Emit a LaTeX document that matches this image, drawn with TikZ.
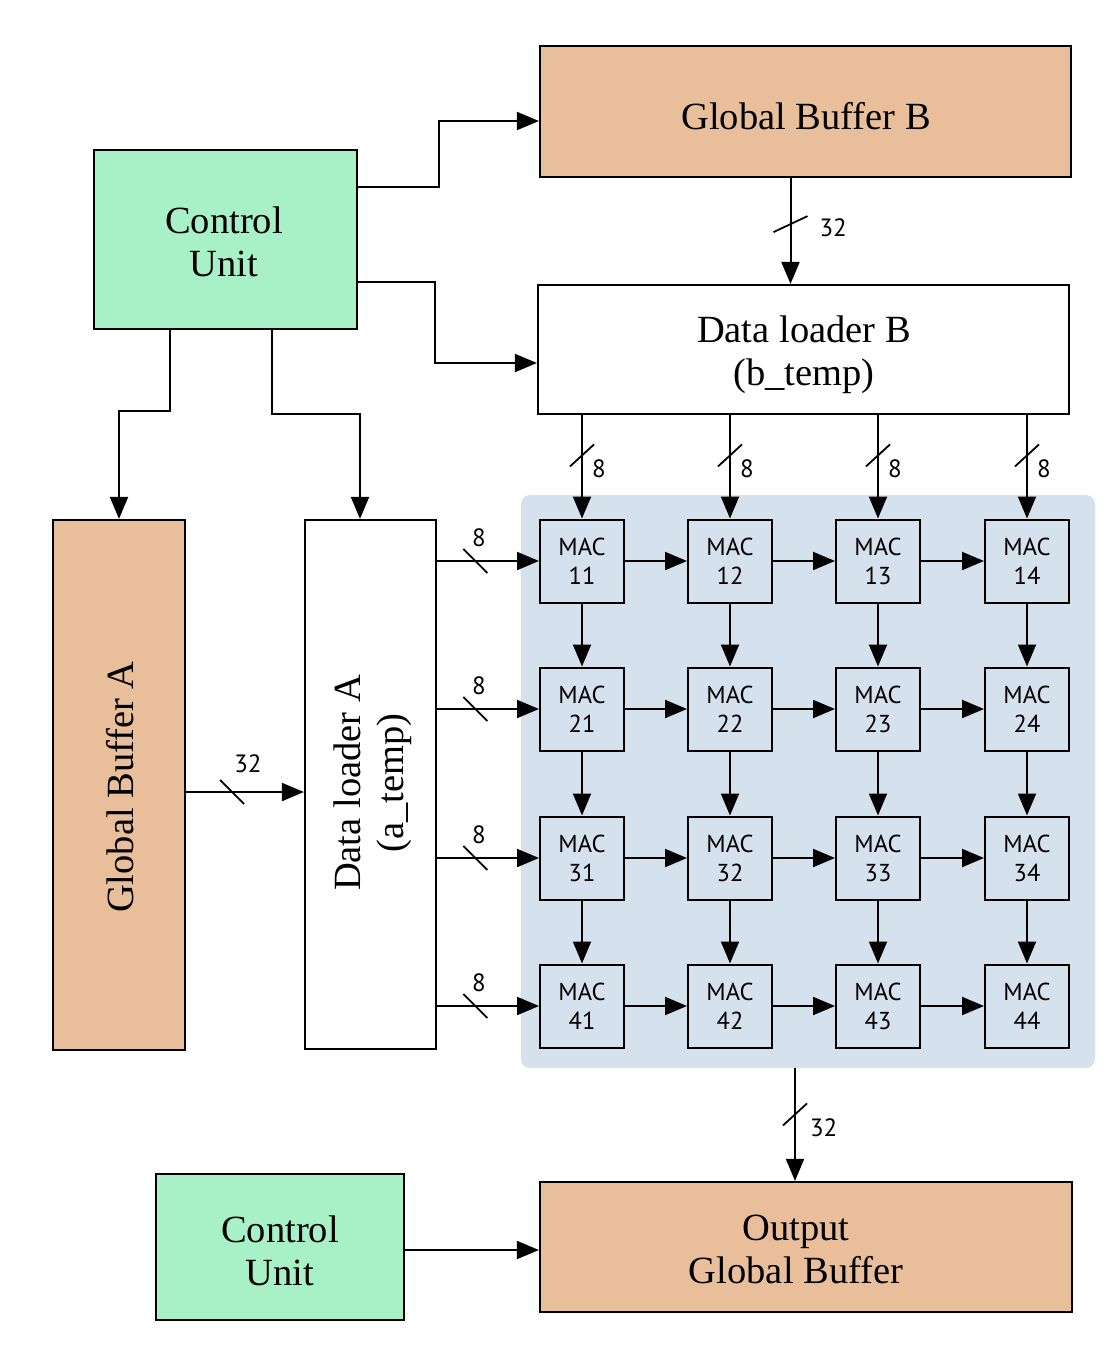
\documentclass[tikz,border=0pt]{standalone}
\usepackage{fontspec}
\setmainfont{Liberation Serif}
\newfontfamily\macfont{PT Sans}
\usetikzlibrary{arrows.meta,calc}
\definecolor{orangeF}{HTML}{E8BF9A}
\definecolor{greenF}{HTML}{A8F0C6}
\definecolor{blueF}{HTML}{D6E1EE}
\begin{document}
\begin{tikzpicture}[x=1pt,y=-1pt,
  box/.style={draw=black, line width=2.2pt, inner sep=0pt},
  bigtext/.style={inner sep=0pt, align=center, font=\fontsize{38.5}{43}\selectfont},
  mac/.style={draw=black, line width=2pt, fill=blueF, minimum width=84, minimum height=83, inner sep=0pt, align=center, font=\macfont\fontsize{24.5}{29}\selectfont},
  arr/.style={line width=2pt, -{Triangle[length=22pt,width=18pt]}},
  bus/.style={font=\macfont\fontsize{25}{26}\selectfont, inner sep=0pt},
  slv/.pic={\draw[line width=1.8pt,-] (-12,11) -- (12,-11);},
  slh/.pic={\draw[line width=1.8pt,-] (-12,-12) -- (12,12);},
  slf/.pic={\draw[line width=1.8pt,-] (-17,8) -- (17,-8);},
]
\path[use as bounding box, fill=white] (0,0) rectangle (1118,1353);

% boxes
\node[box, fill=orangeF, minimum width=531, minimum height=131] (gbb) at (805.5,111.5) {};
\node[bigtext] (gbbT) at (806,116) {Global Buffer B};
\node[box, fill=greenF, minimum width=263, minimum height=179] (cu) at (225.5,239.5) {};
\node[bigtext] (cuT) at (224,242) {Control\\Unit};
\node[box, fill=white, minimum width=531, minimum height=129] (dlb) at (803.5,349.5) {};
\node[bigtext] (dlbT) at (804,355) {Data loader B\\(b\_temp)};
\node[box, fill=orangeF, minimum width=132, minimum height=530] (gba) at (119,785) {};
\node[bigtext, rotate=90] (gbaT) at (120,787) {Global Buffer A};
\node[box, fill=white, minimum width=131, minimum height=529] (dla) at (370.5,784.5) {};
\node[bigtext, rotate=90] (dlaT) at (373,783) {Data loader A\\(a\_temp)};
\node[fill=blueF, rounded corners=9pt, minimum width=574, minimum height=573, inner sep=0pt] (bg) at (808,781.5) {};
\node[box, fill=orangeF, minimum width=532, minimum height=130] (ogb) at (806,1247) {};
\node[bigtext] (ogbT) at (796,1249) {Output\\Global Buffer};
\node[box, fill=greenF, minimum width=248, minimum height=146] (cu2) at (280,1247) {};
\node[bigtext] (cu2T) at (280,1251) {Control\\Unit};

% MAC array
\foreach \r/\y in {1/561,2/709,3/858,4/1006}{
  \foreach \c/\x in {1/582,2/730,3/878,4/1027}{
    \node[mac] (m\r\c) at (\x,\y) {MAC\\\r\c};
  }
}

% control connections
\draw[arr] ([yshift=52.5]cu.east) -- ++(81,0) |- ([yshift=-9.5]gbb.west);
\draw[arr] ([yshift=-42.5]cu.east) -- ++(77,0) |- ([yshift=-13.5]dlb.west);
\draw[arr] ([xshift=-55.5]cu.south) -- ++(0,81) -| (gba.north);
\draw[arr] ([xshift=46.5]cu.south) -- ++(0,84) -| ([xshift=-10.5]dla.north);
\draw[arr] ([yshift=-3]cu2.east) -- ([yshift=-3]ogb.west);

% buses
\draw[arr] ([xshift=-15]gbb.south) -- pic[pos=.435]{slf} node[bus, pos=.47, anchor=west, xshift=28]{32} ([xshift=-15]gbb.south |- dlb.north);
\draw[arr] ([yshift=-7]gba.east) -- pic[pos=.39]{slh} node[bus, pos=.525, anchor=south, yshift=18]{32} ([yshift=-7]gba.east -| dla.west);
\draw[arr] ([xshift=-13]bg.south) -- pic[pos=.41]{slv} node[bus, pos=.53, anchor=west, xshift=14]{32} ([xshift=-13]bg.south |- ogb.north);

\foreach \c in {1,2,3,4}{
  \draw[arr] (dlb.south -| m1\c.north) -- pic[pos=.39]{slv} node[bus, pos=.52, anchor=west, xshift=9]{8} (m1\c.north);
}
\foreach \r in {1,2,3,4}{
  \draw[arr] (dla.east |- m\r1.west) -- pic[pos=.375]{slh} node[bus, pos=.41, anchor=south, yshift=13]{8} (m\r1.west);
}

% inter-MAC
\foreach \r in {1,2,3,4}{
  \draw[arr] (m\r1.east) -- (m\r2.west);
  \draw[arr] (m\r2.east) -- (m\r3.west);
  \draw[arr] (m\r3.east) -- (m\r4.west);
}
\foreach \c in {1,2,3,4}{
  \draw[arr] (m1\c.south) -- (m2\c.north);
  \draw[arr] (m2\c.south) -- (m3\c.north);
  \draw[arr] (m3\c.south) -- (m4\c.north);
}
\end{tikzpicture}
\end{document}
